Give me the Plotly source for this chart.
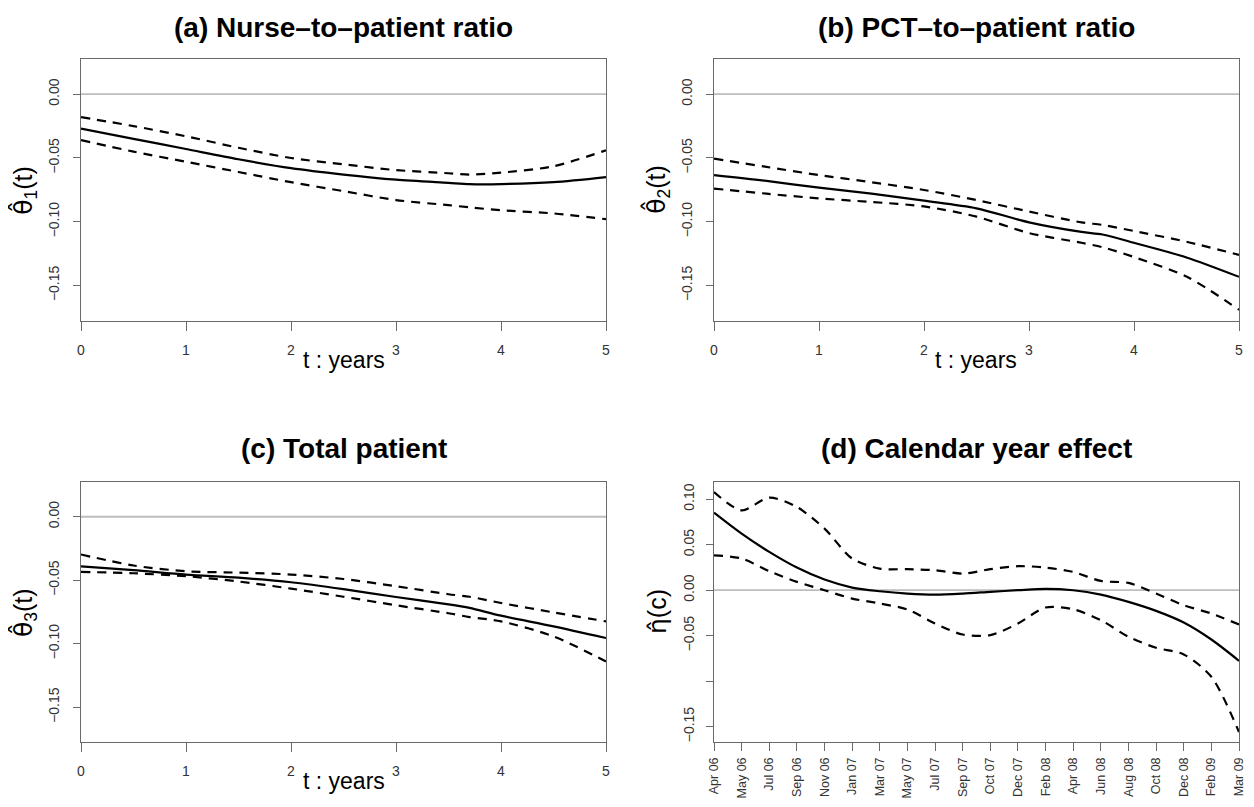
import plotly.graph_objects as go

# ---------------- data ----------------
t_years = [0, 0.5, 1, 1.5, 2, 2.5, 3, 3.5, 3.7, 4, 4.5, 5]

a_est   = [-0.027, -0.035, -0.043, -0.051, -0.058, -0.063, -0.067, -0.0695, -0.0705, -0.0705, -0.069, -0.065]
a_upper = [-0.018, -0.025, -0.033, -0.042, -0.050, -0.055, -0.0595, -0.062, -0.063, -0.0615, -0.0565, -0.044]
a_lower = [-0.036, -0.045, -0.053, -0.061, -0.069, -0.076, -0.083, -0.087, -0.0887, -0.091, -0.0935, -0.098]

b_est   = [-0.0634, -0.068, -0.0733, -0.078, -0.0835, -0.0895, -0.1005, -0.108, -0.110, -0.1165, -0.128, -0.1432]
b_upper = [-0.0505, -0.057, -0.0634, -0.069, -0.0751, -0.083, -0.092, -0.1005, -0.1025, -0.1073, -0.1157, -0.126]
b_lower = [-0.074, -0.078, -0.0817, -0.0845, -0.088, -0.096, -0.1089, -0.1165, -0.120, -0.1277, -0.143, -0.169]

c_est   = [-0.039, -0.042, -0.0455, -0.048, -0.0516, -0.057, -0.0632, -0.069, -0.0718, -0.0779, -0.0863, -0.0955]
c_upper = [-0.0297, -0.0384, -0.0429, -0.044, -0.0455, -0.049, -0.0547, -0.061, -0.063, -0.0679, -0.0753, -0.0824]
c_lower = [-0.0434, -0.0445, -0.0468, -0.051, -0.0566, -0.063, -0.0697, -0.076, -0.079, -0.0824, -0.0942, -0.114]

months = ["Apr 06", "May 06", "Jul 06", "Sep 06", "Nov 06", "Jan 07", "Mar 07", "May 07",
          "Jul 07", "Sep 07", "Oct 07", "Dec 07", "Feb 08", "Apr 08", "Jun 08", "Aug 08",
          "Oct 08", "Dec 08", "Feb 09", "Mar 09"]
d_est   = [0.0853, 0.0622, 0.0421, 0.0249, 0.0117, 0.0029, -0.0011, -0.0037, -0.0048, -0.0037,
           -0.0018, 0.0000, 0.0015, 0.0000, -0.0048, -0.0128, -0.0227, -0.0355, -0.0542, -0.0776]
d_upper = [0.108, 0.0878, 0.1018, 0.0915, 0.0677, 0.0348, 0.0238, 0.0231, 0.022, 0.0183,
           0.0231, 0.0264, 0.0249, 0.0201, 0.0102, 0.008, -0.0037, -0.0165, -0.0256, -0.0377]
d_lower = [0.0384, 0.0348, 0.0209, 0.0092, 0.0000, -0.0092, -0.0146, -0.0212, -0.0366, -0.0487,
           -0.0494, -0.0366, -0.019, -0.0209, -0.0329, -0.0512, -0.0633, -0.0706, -0.0952, -0.156]

titles = ["(a) Nurse\u2013to\u2013patient ratio", "(b) PCT\u2013to\u2013patient ratio",
          "(c) Total patient", "(d) Calendar year effect"]
HATSPAN = "<span style='font-family:DejaVu Sans'>{}</span>"
ylabels = [HATSPAN.format("\u03b8\u0302") + "<sub>1</sub>(t)",
           HATSPAN.format("\u03b8\u0302") + "<sub>2</sub>(t)",
           HATSPAN.format("\u03b8\u0302") + "<sub>3</sub>(t)",
           HATSPAN.format("\u03b7\u0302") + "(c)"]
xlabel = "t : years"
year_ticks = [0, 1, 2, 3, 4, 5]
theta_ticks = [0.00, -0.05, -0.10, -0.15]
theta_ticktext = ["0.00", "\u22120.05", "\u22120.10", "\u22120.15"]
eta_ticks = [0.10, 0.05, 0.00, -0.05, -0.10, -0.15]
eta_ticktext = ["0.10", "0.05", "0.00", "\u22120.05", "", "\u22120.15"]

# ---------------- layout geometry (page pixel coords, body margin 8px) ----------------
PW, PH = 1254, 807
OFF = 8
W, H = PW - 2 * OFF, PH - 2 * OFF
FONT = "Liberation Sans, Arial, Helvetica, sans-serif"
px = lambda x: (x - OFF) / W
py = lambda y: 1 - (y - OFF) / H
xdom = [[px(81), px(606)], [px(714), px(1239)]]
ydom = [[py(320.7), py(59)], [py(742.3), py(481.7)]]
title_y = [27, 448]

fig = go.Figure()

panels = [
    (t_years, a_est, a_upper, a_lower, 0, 0),
    (t_years, b_est, b_upper, b_lower, 1, 0),
    (t_years, c_est, c_upper, c_lower, 0, 1),
    (months, d_est, d_upper, d_lower, 1, 1),
]

axis_common = dict(showline=True, mirror=True, linecolor="#6a6a6a", linewidth=1.3,
                   showgrid=False, zeroline=False, ticks="outside", tickcolor="#6a6a6a",
                   tickwidth=1.3, automargin=False)

for i, (xs, est, up, lo, col, row) in enumerate(panels):
    n = "" if i == 0 else str(i + 1)
    xa, ya = "x" + n, "y" + n
    is_d = i == 3
    # zero reference line
    zx = [months[0], months[-1]] if is_d else [year_ticks[0], year_ticks[-1]]
    fig.add_trace(go.Scatter(x=zx, y=[0, 0], mode="lines", xaxis=xa, yaxis=ya,
                             line=dict(color="#bdbdbd", width=1.8), showlegend=False,
                             hoverinfo="skip"))
    for ys, dash in [(up, "9px,7px"), (lo, "9px,7px"), (est, "solid")]:
        fig.add_trace(go.Scatter(x=xs, y=ys, mode="lines", xaxis=xa, yaxis=ya,
                                 line=dict(color="black", width=2.2, dash=dash,
                                           shape="spline", smoothing=0.8),
                                 showlegend=False))
    xkey = "xaxis" + n
    ykey = "yaxis" + n
    if is_d:
        xaxis = dict(axis_common, domain=xdom[col], anchor=ya, type="category",
                     categoryorder="array", categoryarray=months,
                     range=[0, len(months) - 1], tickangle=-90, ticklen=8,
                     ticklabelstandoff=1,
                     tickfont=dict(family=FONT, size=12.5, color="#333"))
        yaxis = dict(axis_common, domain=ydom[row], anchor=xa, range=[-0.1672, 0.1193],
                     tickvals=eta_ticks, ticktext=eta_ticktext, tickangle=-90, ticklen=7,
                     ticklabelstandoff=6,
                     tickfont=dict(family=FONT, size=14, color="#333"))
    else:
        xaxis = dict(axis_common, domain=xdom[col], anchor=ya, range=[0, 5],
                     tickvals=year_ticks, ticklen=9, ticklabelstandoff=7,
                     tickfont=dict(family=FONT, size=14, color="#333"))
        yaxis = dict(axis_common, domain=ydom[row], anchor=xa, range=[-0.1776, 0.0276],
                     tickvals=theta_ticks, ticktext=theta_ticktext, tickangle=-90, ticklen=7,
                     ticklabelstandoff=8,
                     tickfont=dict(family=FONT, size=14, color="#333"))
    fig.update_layout({xkey: xaxis, ykey: yaxis})

    # title
    xc = (xdom[col][0] + xdom[col][1]) / 2
    fig.add_annotation(text="<b>" + titles[i] + "</b>", xref="paper", yref="paper",
                       x=xc, y=py(title_y[row]), showarrow=False, xanchor="center",
                       yanchor="middle", font=dict(family=FONT, size=28, color="black"))
    # y label
    fig.add_annotation(text=ylabels[i], xref="paper", yref="paper",
                       x=xdom[col][0] - 57 / W, y=(ydom[row][0] + ydom[row][1]) / 2,
                       showarrow=False, textangle=-90, xanchor="center", yanchor="middle",
                       font=dict(family=FONT, size=25, color="black"))
    # x label
    if not is_d:
        fig.add_annotation(text=xlabel, xref="paper", yref="paper",
                           x=xc, y=ydom[row][0] - 39 / H, showarrow=False,
                           xanchor="center", yanchor="middle",
                           font=dict(family=FONT, size=23, color="black"))

fig.update_layout(width=W, height=H, margin=dict(l=0, r=0, t=0, b=0),
                  paper_bgcolor="white", plot_bgcolor="white",
                  font=dict(family=FONT))

fig.write_html("out.html")
